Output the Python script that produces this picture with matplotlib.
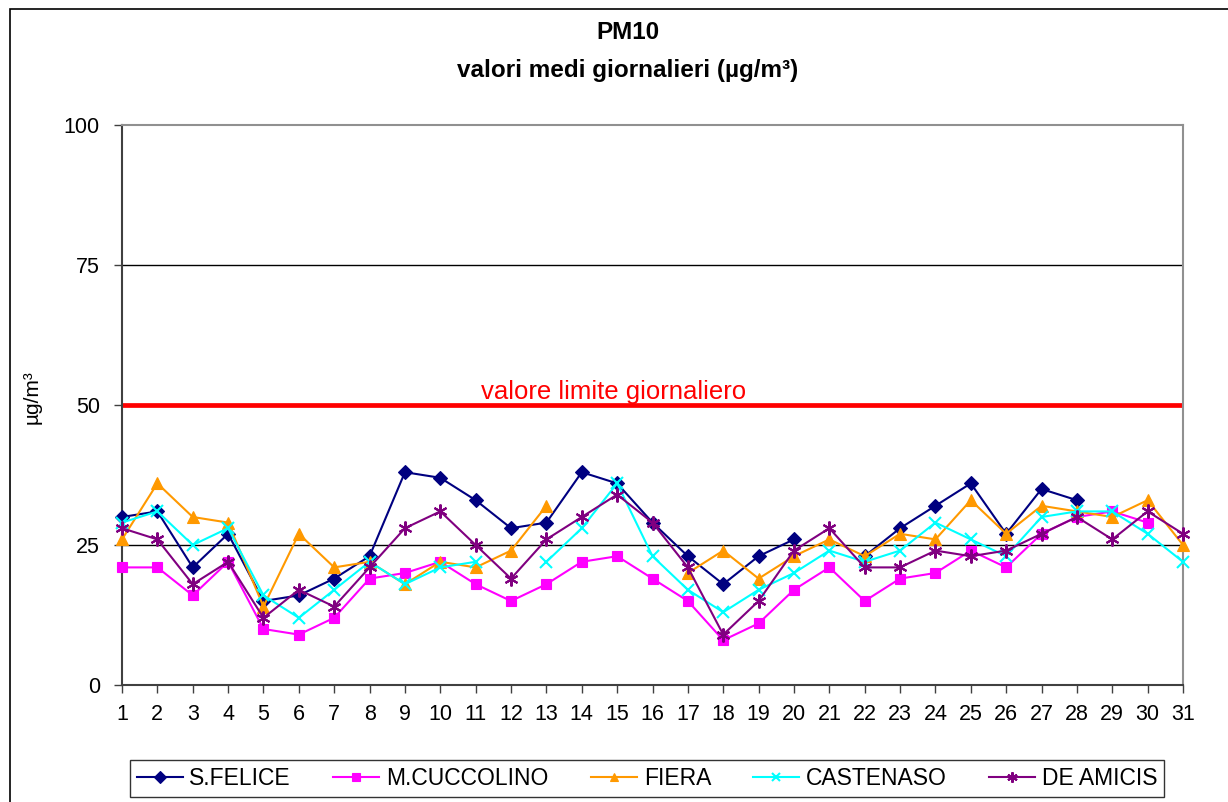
import numpy as np
import matplotlib
matplotlib.use('Agg')
import matplotlib.pyplot as plt
from matplotlib.patches import Rectangle

plt.rcParams['font.family'] = ['Liberation Sans', 'DejaVu Sans']

nan = np.nan
days = list(range(1, 32))

s_felice = [30, 31, 21, 27, 15, 16, 19, 23, 38, 37, 33, 28, 29, 38, 36, 29,
            23, 18, 23, 26, nan, 23, 28, 32, 36, 27, 35, 33, nan, nan, nan]
m_cuccolino = [21, 21, 16, 22, 10, 9, 12, 19, 20, 22, 18, 15, 18, 22, 23, 19,
               15, 8, 11, 17, 21, 15, 19, 20, 24, 21, 27, 30, 31, 29, nan]
fiera = [26, 36, 30, 29, 14, 27, 21, 22, 18, 22, 21, 24, 32, nan, nan, nan,
         20, 24, 19, 23, 26, 23, 27, 26, 33, 27, 32, 31, 30, 33, 25]
castenaso = [29, 31, 25, 28, 16, 12, 17, 22, 18, 21, 22, nan, 22, 28, 36, 23,
             17, 13, 17, 20, 24, 22, 24, 29, 26, 23, 30, 31, 31, 27, 22]
de_amicis = [28, 26, 18, 22, 12, 17, 14, 21, 28, 31, 25, 19, 26, 30, 34, 29,
             21, 9, 15, 24, 28, 21, 21, 24, 23, 24, 27, 30, 26, 31, 27]

series = [
    ('S.FELICE', s_felice, '#000080', 'D', 7.5),
    ('M.CUCCOLINO', m_cuccolino, '#FF00FF', 's', 7.5),
    ('FIERA', fiera, '#FF9900', '^', 8.5),
    ('CASTENASO', castenaso, '#00FFFF', 'x', 8.5),
    ('DE AMICIS', de_amicis, '#800080', (6, 2, 0), 10),
]

limit_value = 50
y_ticks = [0, 25, 50, 75, 100]

fig = plt.figure(figsize=(12.28, 8.02), dpi=100)
ax = fig.add_axes([122 / 1228, 117 / 802, 1061 / 1228, 560 / 802])

# grid lines (the limit line is drawn separately in red)
for v in [25, 75]:
    ax.axhline(v, color='black', lw=1.0, zorder=1)
ax.axhline(limit_value, color='#FF0000', lw=3.4, zorder=1)
ax.text(14.9, limit_value + 1.0, 'valore limite giornaliero', color='#FF0000',
        fontsize=18.5, ha='center', va='baseline')

for name, vals, col, mk, ms in series:
    ax.plot(days, vals, color=col, marker=mk, markersize=ms, lw=1.5,
            markeredgewidth=1.5 if mk in ('x', (6, 2, 0)) else 0.8,
            label=name, zorder=3, clip_on=False)

ax.set_xlim(1, 31)
ax.set_ylim(0, 100)
ax.set_xticks(days)
ax.set_yticks(y_ticks)
ax.tick_params(axis='both', direction='out', length=6, width=1,
               color='#404040', labelsize=15.5)
ax.tick_params(axis='x', pad=8)
ax.tick_params(axis='y', pad=10)
for side in ['left', 'bottom']:
    ax.spines[side].set_color('#404040')
    ax.spines[side].set_linewidth(1.5)
for side in ['top', 'right']:
    ax.spines[side].set_color('#909090')
    ax.spines[side].set_linewidth(1.5)

ax.set_ylabel('µg/m³', fontsize=15)
ax.yaxis.set_label_coords((42 - 122) / 1061, 0.514)

fig.text(0.511, 0.960, 'PM10', fontsize=17.5, fontweight='bold',
         ha='center', va='center')
fig.text(0.511, 0.912, 'valori medi giornalieri (µg/m³)', fontsize=17.5,
         fontweight='bold', ha='center', va='center')

leg = fig.legend(loc='center', bbox_to_anchor=(0.527, 0.0293), ncol=5,
                 fontsize=16.5, frameon=True, fancybox=False,
                 edgecolor='black', handlelength=2.0, handletextpad=0.3,
                 columnspacing=1.85, borderpad=0.3, markerscale=0.75)
leg.get_frame().set_linewidth(1.0)

# outer chart frame
fig.add_artist(Rectangle((10 / 1228, -0.1), 1.2, 1.1 - 9 / 802,
                         transform=fig.transFigure, fill=False,
                         edgecolor='black', lw=1.2))

fig.savefig('out.png', dpi=100)
